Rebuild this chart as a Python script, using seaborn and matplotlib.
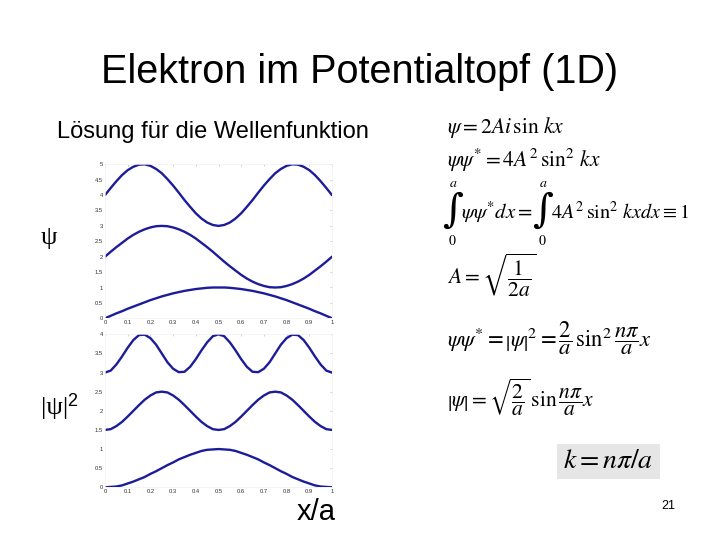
import numpy as np
import pandas as pd
import matplotlib
matplotlib.use("Agg")
import matplotlib.pyplot as plt
import seaborn as sns
from matplotlib.patches import Rectangle

# ---- data (x/a from 0 to 1 in steps of 0.025) ----
x_vals = [round(i * 0.025, 3) for i in range(41)]

psi_n1 = [0, .08, .16, .23, .31, .38, .45, .52, .59, .65, .71, .76, .81, .85, .89, .92, .95, .97, .99, 1.0,
          1.0, 1.0, .99, .97, .95, .92, .89, .85, .81, .76, .71, .65, .59, .52, .45, .38, .31, .23, .16, .08, 0]
psi_n2 = [2.0, 2.16, 2.31, 2.45, 2.59, 2.71, 2.81, 2.89, 2.95, 2.99, 3.0, 2.99, 2.95, 2.89, 2.81, 2.71, 2.59,
          2.45, 2.31, 2.16, 2.0, 1.84, 1.69, 1.55, 1.41, 1.29, 1.19, 1.11, 1.05, 1.01, 1.0, 1.01, 1.05, 1.11,
          1.19, 1.29, 1.41, 1.55, 1.69, 1.84, 2.0]
psi_n3 = [4.0, 4.23, 4.45, 4.65, 4.81, 4.92, 4.99, 5.0, 4.95, 4.85, 4.71, 4.52, 4.31, 4.08, 3.84, 3.62, 3.41,
          3.24, 3.11, 3.03, 3.0, 3.03, 3.11, 3.24, 3.41, 3.62, 3.84, 4.08, 4.31, 4.52, 4.71, 4.85, 4.95, 5.0,
          4.99, 4.92, 4.81, 4.65, 4.45, 4.23, 4.0]

dens_n1 = [0, .01, .02, .05, .10, .15, .21, .27, .35, .42, .50, .58, .65, .73, .79, .85, .90, .95, .98, .99,
           1.0, .99, .98, .95, .90, .85, .79, .73, .65, .58, .50, .42, .35, .27, .21, .15, .10, .05, .02, .01, 0]
dens_n2 = [1.5, 1.52, 1.60, 1.71, 1.85, 2.0, 2.15, 2.29, 2.40, 2.48, 2.5, 2.48, 2.40, 2.29, 2.15, 2.0, 1.85,
           1.71, 1.60, 1.52, 1.5, 1.52, 1.60, 1.71, 1.85, 2.0, 2.15, 2.29, 2.40, 2.48, 2.5, 2.48, 2.40, 2.29,
           2.15, 2.0, 1.85, 1.71, 1.60, 1.52, 1.5]
dens_n3 = [3.0, 3.05, 3.21, 3.42, 3.65, 3.85, 3.98, 3.99, 3.90, 3.73, 3.5, 3.27, 3.10, 3.01, 3.02, 3.15, 3.35,
           3.58, 3.79, 3.95, 4.0, 3.95, 3.79, 3.58, 3.35, 3.15, 3.02, 3.01, 3.10, 3.27, 3.5, 3.73, 3.90, 3.99,
           3.98, 3.85, 3.65, 3.42, 3.21, 3.05, 3.0]

x_ticks = [0, 0.1, 0.2, 0.3, 0.4, 0.5, 0.6, 0.7, 0.8, 0.9, 1]
x_ticklabels = ["0", "0.1", "0.2", "0.3", "0.4", "0.5", "0.6", "0.7", "0.8", "0.9", "1"]
y_ticks_psi = [0, 0.5, 1, 1.5, 2, 2.5, 3, 3.5, 4, 4.5, 5]
y_ticklabels_psi = ["0", "0.5", "1", "1.5", "2", "2.5", "3", "3.5", "4", "4.5", "5"]
y_ticks_dens = [0, 0.5, 1, 1.5, 2, 2.5, 3, 3.5, 4]
y_ticklabels_dens = ["0", "0.5", "1", "1.5", "2", "2.5", "3", "3.5", "4"]

title_text = "Elektron im Potentialtopf (1D)"
subtitle_text = "Lösung für die Wellenfunktion"
xlabel_text = "x/a"
page_number = "21"

# ---- style ----
sns.set_style("white")
plt.rcParams["font.family"] = ["Liberation Sans", "DejaVu Sans"]
plt.rcParams["mathtext.fontset"] = "stix"
plt.rcParams["text.color"] = "black"

fig = plt.figure(figsize=(7.2, 5.4), dpi=100)
fig.patch.set_facecolor("white")

line_color = "#1c1c9a"

def long_df(series):
    frames = []
    for name, vals in series.items():
        frames.append(pd.DataFrame({"x": x_vals, "y": vals, "n": name}))
    return pd.concat(frames, ignore_index=True)

df_psi = long_df({"n1": psi_n1, "n2": psi_n2, "n3": psi_n3})
df_dens = long_df({"n1": dens_n1, "n2": dens_n2, "n3": dens_n3})

ax1 = fig.add_axes([105 / 720, 1 - 318.3 / 540, 227 / 720, 154 / 540])
ax2 = fig.add_axes([105 / 720, 1 - 487.3 / 540, 227 / 720, 153 / 540])

for ax, df, yt, ytl, ymax in [(ax1, df_psi, y_ticks_psi, y_ticklabels_psi, 5),
                              (ax2, df_dens, y_ticks_dens, y_ticklabels_dens, 4)]:
    sns.lineplot(data=df, x="x", y="y", units="n", estimator=None, ax=ax,
                 color=line_color, linewidth=1.7, legend=False)
    ax.set_xlim(0, 1)
    ax.set_ylim(0, ymax)
    ax.set_xticks(x_ticks)
    ax.set_xticklabels(x_ticklabels)
    ax.set_yticks(yt)
    ax.set_yticklabels(ytl)
    ax.set_xlabel("")
    ax.set_ylabel("")
    ax.tick_params(axis="both", labelsize=4.2, labelcolor="#333333", length=1.5,
                   width=0.5, color="#bbbbbb", direction="in", pad=1.5,
                   top=True, right=True)
    for sp in ax.spines.values():
        sp.set_color("#f0f0f0")
        sp.set_linewidth(0.5)
    ax.set_facecolor("none")

# ---- slide texts ----
def ftext(px, py, s, **kw):
    return fig.text(px / 720, 1 - py / 540, s, **kw)

ftext(360, 72, title_text, ha="center", va="center", fontsize=28.5)
ftext(57, 132, subtitle_text, ha="left", va="center", fontsize=17)
ftext(41, 238, "ψ", ha="left", va="center", fontsize=19, family=["Liberation Serif", "DejaVu Serif"])
ftext(41, 408, "|ψ|", ha="left", va="center", fontsize=19, family=["Liberation Serif", "DejaVu Serif"])
ftext(67, 401, "2", ha="left", va="center", fontsize=13, family=["Liberation Sans", "DejaVu Sans"])
ftext(316, 512, xlabel_text, ha="center", va="center", fontsize=21)
ftext(668, 506, page_number, ha="center", va="center", fontsize=9)

# ---- equations ----
eq_size = 15.5
ftext(447, 127, r"$\psi = 2Ai\,\sin\, kx$", ha="left", va="center", fontsize=eq_size)
ftext(447, 160, r"$\psi\psi^{*} = 4A^{2}\,\sin^{2}\, kx$", ha="left", va="center", fontsize=eq_size)

# integral equation composed of pieces (upright integral signs with limits above/below)
int_font = ["DejaVu Serif"]
ftext(453, 211, "∫", ha="center", va="center", fontsize=29, family=int_font)
ftext(453, 183, r"$a$", ha="center", va="center", fontsize=10)
ftext(452, 241, r"$0$", ha="center", va="center", fontsize=10)
ftext(461, 212, r"$\psi\psi^{*}dx =$", ha="left", va="center", fontsize=15)
ftext(543, 211, "∫", ha="center", va="center", fontsize=29, family=int_font)
ftext(543, 183, r"$a$", ha="center", va="center", fontsize=10)
ftext(542, 241, r"$0$", ha="center", va="center", fontsize=10)
ftext(551, 212, r"$4A^{2}\,\sin^{2}\, kxdx \equiv 1$", ha="left", va="center", fontsize=14.5)

ftext(447, 275, r"$A = \sqrt{\dfrac{1}{2a}}$", ha="left", va="center", fontsize=eq_size)
ftext(447, 338, r"$\psi\psi^{*} = \left|\psi\right|^{2} = \dfrac{2}{a}\,\sin^{2}\dfrac{n\pi}{a}x$",
      ha="left", va="center", fontsize=16.3)
ftext(447, 397, r"$\left|\psi\right| = \sqrt{\dfrac{2}{a}}\,\sin\dfrac{n\pi}{a}x$",
      ha="left", va="center", fontsize=eq_size)

fig.patches.append(Rectangle((557 / 720, 1 - 479 / 540), 103 / 720, 35 / 540,
                             transform=fig.transFigure, facecolor="#e6e6e6",
                             edgecolor="none", zorder=0))
ftext(608, 461, r"$k = n\pi/a$", ha="center", va="center", fontsize=20)

fig.savefig("out.png", dpi=100, facecolor="white")
